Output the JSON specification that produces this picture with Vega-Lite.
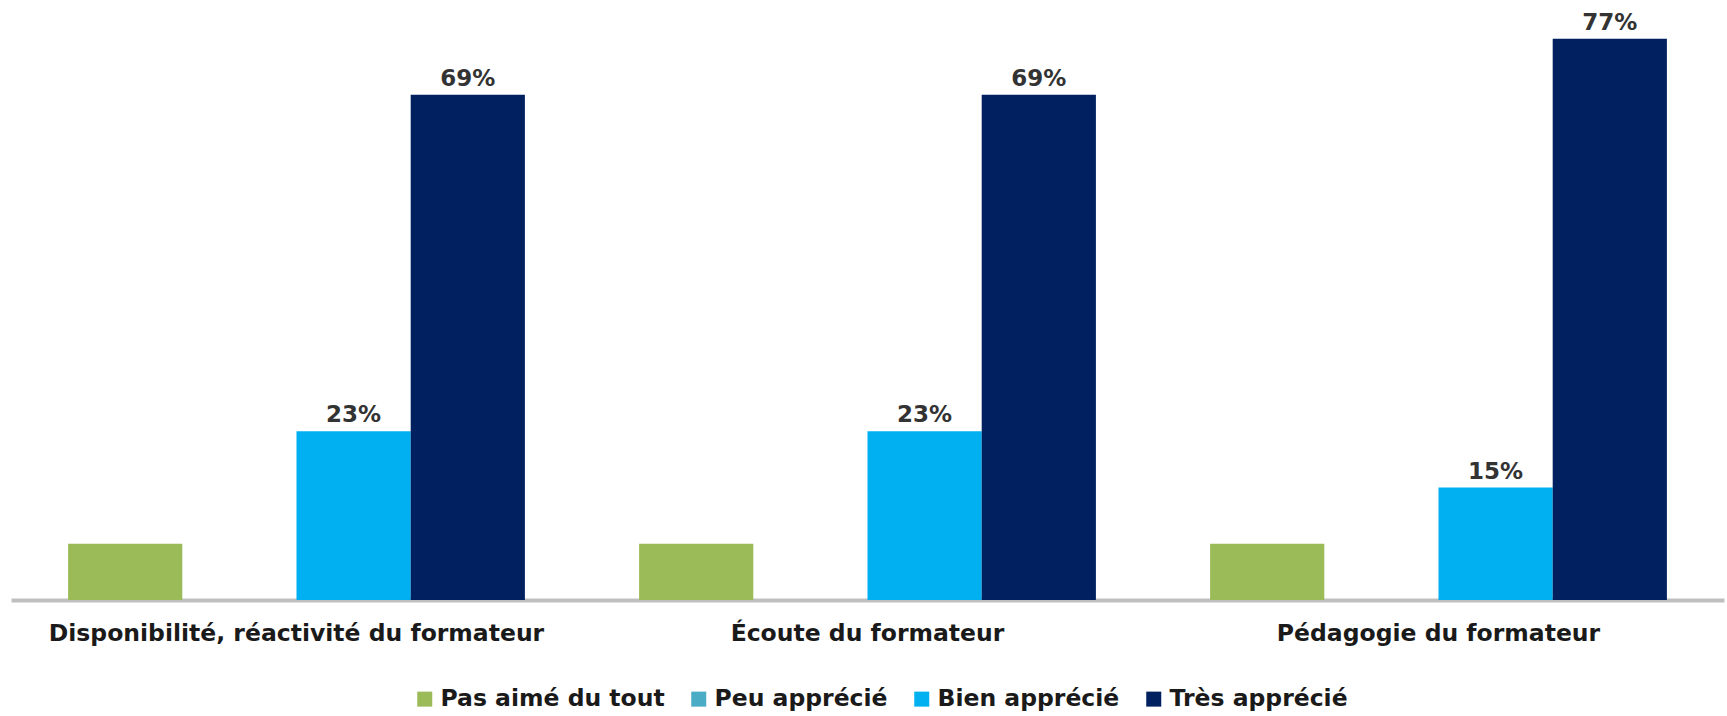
{
  "$schema": "https://vega.github.io/schema/vega-lite/v6.json",
  "autosize": {"type": "none"},
  "padding": {"left": 11, "top": 16, "right": 3, "bottom": 116},
  "width": 1713,
  "height": 584,
  "background": "white",
  "config": {"view": {"stroke": null}, "font": "DejaVu Sans"},
  "data": {
    "values": [
      {"critere": "Disponibilité, réactivité du formateur", "avis": "Pas aimé du tout", "valeur": 0.077},
      {"critere": "Disponibilité, réactivité du formateur", "avis": "Peu apprécié", "valeur": 0},
      {"critere": "Disponibilité, réactivité du formateur", "avis": "Bien apprécié", "valeur": 0.231},
      {"critere": "Disponibilité, réactivité du formateur", "avis": "Très apprécié", "valeur": 0.692},
      {"critere": "Écoute du formateur", "avis": "Pas aimé du tout", "valeur": 0.077},
      {"critere": "Écoute du formateur", "avis": "Peu apprécié", "valeur": 0},
      {"critere": "Écoute du formateur", "avis": "Bien apprécié", "valeur": 0.231},
      {"critere": "Écoute du formateur", "avis": "Très apprécié", "valeur": 0.692},
      {"critere": "Pédagogie du formateur", "avis": "Pas aimé du tout", "valeur": 0.077},
      {"critere": "Pédagogie du formateur", "avis": "Peu apprécié", "valeur": 0},
      {"critere": "Pédagogie du formateur", "avis": "Bien apprécié", "valeur": 0.154},
      {"critere": "Pédagogie du formateur", "avis": "Très apprécié", "valeur": 0.769}
    ]
  },
  "encoding": {
    "x": {
      "field": "critere",
      "type": "nominal",
      "sort": null,
      "scale": {"paddingInner": 0.2, "paddingOuter": 0.1},
      "axis": {
        "title": null,
        "labelAngle": 0,
        "labelFontSize": 23.5,
        "labelFontWeight": "bold",
        "labelColor": "#1a1a1a",
        "labelPadding": 21,
        "ticks": false,
        "domainColor": "#BFBFBF",
        "domainWidth": 4,
        "labelLimit": 1000
      }
    },
    "xOffset": {
      "field": "avis",
      "type": "nominal",
      "scale": {"domain": ["Pas aimé du tout", "Peu apprécié", "Bien apprécié", "Très apprécié"], "paddingInner": 0, "paddingOuter": 0}
    },
    "y": {
      "field": "valeur",
      "type": "quantitative",
      "scale": {"domain": [0, 0.8]},
      "axis": null
    }
  },
  "layer": [
    {
      "mark": {"type": "bar"},
      "encoding": {
        "color": {
          "field": "avis",
          "type": "nominal",
          "scale": {
            "domain": ["Pas aimé du tout", "Peu apprécié", "Bien apprécié", "Très apprécié"],
            "range": ["#9BBB59", "#4BACC6", "#00B0F0", "#002060"]
          },
          "legend": {
            "title": null,
            "orient": "none",
            "direction": "horizontal",
            "legendX": 402,
            "legendY": 671,
            "symbolType": "square",
            "symbolSize": 225,
            "symbolStrokeWidth": 0,
            "labelFontSize": 23.5,
            "labelFontWeight": "bold",
            "labelColor": "#1a1a1a",
            "labelOffset": 4,
            "columnPadding": 22,
            "labelLimit": 400
          }
        }
      }
    },
    {
      "transform": [{"filter": "datum.valeur > 0 && datum.avis != 'Pas aimé du tout'"}],
      "mark": {"type": "text", "baseline": "bottom", "dy": -4, "fontSize": 23, "fontWeight": "bold", "color": "#333333"},
      "encoding": {
        "text": {"field": "valeur", "type": "quantitative", "format": ".0%"}
      }
    }
  ]
}
